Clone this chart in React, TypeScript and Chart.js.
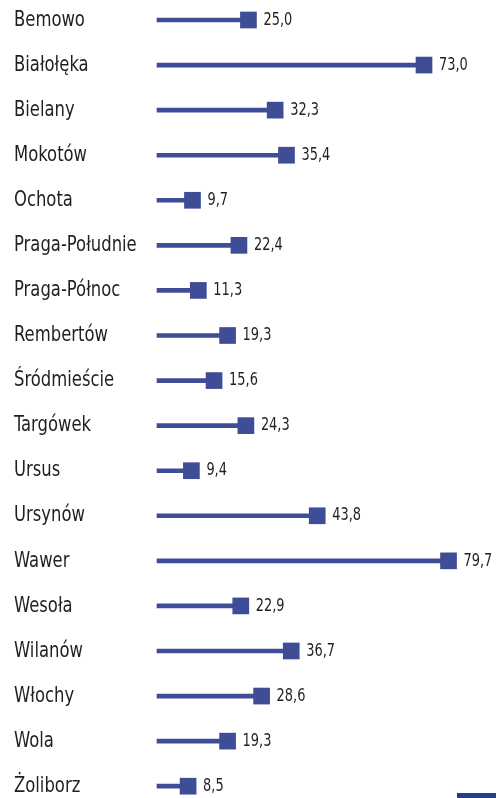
import React, { useEffect, useRef } from "react";
import { Chart, registerables } from "chart.js";

Chart.register(...registerables);

const districts: string[] = [
  "Bemowo",
  "Białołęka",
  "Bielany",
  "Mokotów",
  "Ochota",
  "Praga-Południe",
  "Praga-Północ",
  "Rembertów",
  "Śródmieście",
  "Targówek",
  "Ursus",
  "Ursynów",
  "Wawer",
  "Wesoła",
  "Wilanów",
  "Włochy",
  "Wola",
  "Żoliborz",
];

const values: number[] = [
  25.0, 73.0, 32.3, 35.4, 9.7, 22.4, 11.3, 19.3, 15.6, 24.3, 9.4, 43.8, 79.7,
  22.9, 36.7, 28.6, 19.3, 8.5,
];

const FONT = "'Liberation Sans Narrow', 'DejaVu Sans Condensed', 'Arial Narrow', sans-serif";
const BLUE = "#3f4d96";
const TEXT = "#231f20";

// Condensed text drawing (the reference uses a condensed face)
const condensedLabels = {
  id: "condensedLabels",
  afterDatasetsDraw(chart: any) {
    const ctx = chart.ctx;
    const yScale = chart.scales.y;
    const meta = chart.getDatasetMeta(1);
    // category labels, positioned by the y scale
    yScale.ticks.forEach((_t: any, i: number) => {
      const label = yScale.getLabelForValue(i);
      const y = yScale.getPixelForTick(i);
      ctx.save();
      ctx.font = `22px ${FONT}`;
      ctx.fillStyle = TEXT;
      ctx.textAlign = "left";
      ctx.textBaseline = "middle";
      ctx.translate(yScale.left, y);
      ctx.scale(0.83, 1);
      ctx.fillText(label, 0, 0);
      ctx.restore();
    });
    // value labels next to markers
    meta.data.forEach((pt: any, i: number) => {
      const txt = values[i].toFixed(1).replace(".", ",");
      ctx.save();
      ctx.font = `18px ${FONT}`;
      ctx.fillStyle = TEXT;
      ctx.textAlign = "left";
      ctx.textBaseline = "middle";
      ctx.translate(pt.x + 15, pt.y);
      ctx.scale(0.8, 1);
      ctx.fillText(txt, 0, 0);
      ctx.restore();
    });
  },
};

export default function App() {
  const ref = useRef<HTMLCanvasElement | null>(null);

  useEffect(() => {
    if (!ref.current) return;
    const chart = new Chart(ref.current, {
      type: "bar",
      data: {
        labels: districts,
        datasets: [
          {
            type: "bar",
            data: values,
            backgroundColor: BLUE,
            borderWidth: 0,
            barThickness: 4,
            indexAxis: "y",
            clip: false,
          } as any,
          {
            type: "line",
            data: values,
            showLine: false,
            indexAxis: "y",
            pointStyle: "rect",
            pointRadius: 11.8,
            pointHoverRadius: 11.8,
            pointBackgroundColor: BLUE,
            pointBorderWidth: 0,
            borderColor: BLUE,
            clip: false,
          } as any,
        ],
      },
      options: {
        indexAxis: "y",
        animation: false,
        responsive: false,
        maintainAspectRatio: false,
        layout: { padding: { left: 14, right: 11, top: 20, bottom: 11 } },
        plugins: {
          legend: { display: false },
          tooltip: { enabled: false },
        },
        scales: {
          x: {
            display: false,
            min: 0,
            max: 90,
          },
          y: {
            offset: false,
            grid: { display: false },
            border: { display: false },
            afterFit: (scale: any) => {
              scale.width = 143;
            },
            ticks: {
              display: false,
            },
          },
        },
      },
      plugins: [condensedLabels],
    });
    return () => chart.destroy();
  }, []);

  return (
    <div
      style={{
        position: "absolute",
        left: 0,
        top: 0,
        width: 498,
        height: 798,
        background: "#ffffff",
        overflow: "hidden",
      }}
    >
      <canvas ref={ref} width={498} height={798} style={{ display: "block" }} />
      <div
        style={{
          position: "absolute",
          left: 457,
          top: 793,
          width: 39,
          height: 5,
          background: "#233f8f",
        }}
      />
    </div>
  );
}
